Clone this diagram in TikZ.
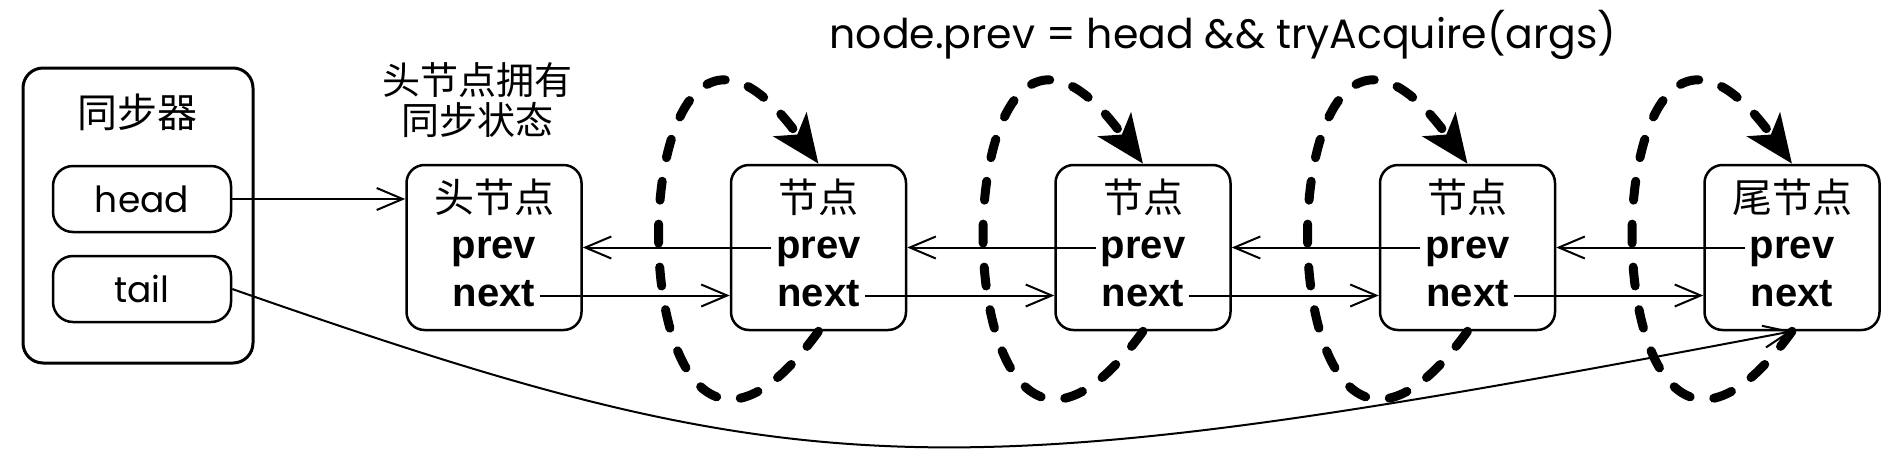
\documentclass[tikz,border=0pt]{standalone}
\usepackage{fontspec}
\setmainfont{Poppins}
\newfontfamily\cjkfont{Noto Sans CJK SC}
\newfontfamily\fieldfont{Liberation Sans}
\usetikzlibrary{arrows.meta,positioning}

\begin{document}
\begin{tikzpicture}[
  x=1pt,y=-1pt,
  node distance=147pt,
  qbox/.style={rectangle,rounded corners=18pt,draw,line width=2.5pt,minimum width=175pt,minimum height=165pt},
  ref/.style={rectangle,rounded corners=20pt,draw,line width=2.5pt,minimum width=178pt,minimum height=66pt,font=\fontsize{36}{40}\selectfont},
  cjk/.style={font=\cjkfont\fontsize{40}{42}\selectfont,inner sep=0pt},
  field/.style={font=\fieldfont\bfseries\fontsize{40}{42}\selectfont,text height=21pt,text depth=0pt,inner xsep=5pt,inner ysep=0pt},
  ptr/.style={-{Straight Barb[length=26pt,width=22pt]},line width=2pt},
  spin/.style={-{Stealth[length=48pt,width=40pt,inset=12pt]},line width=9pt,dash pattern=on 19pt off 24pt,line cap=round}
]
\useasboundingbox (0,0) rectangle (1898,472);

% synchronizer
\node[rectangle,rounded corners=20pt,draw,line width=3pt,minimum width=230pt,minimum height=295pt] (sync) at (138,215.5) {};
\node[cjk] (synct) at (137,112) {同步器};
\node[ref] (head) at (142,199) {head};
\node[ref] (tail) at (142,289) {tail};

% queue
\node[qbox] (n0) at (494,247.5) {};
\node[qbox,right=of n0] (n1) {};
\node[qbox,right=of n1] (n2) {};
\node[qbox,right=of n2] (n3) {};
\node[qbox,right=of n3] (n4) {};
\foreach \i/\name in {0/头节点,1/节点,2/节点,3/节点,4/尾节点} {
  \node[cjk] (t\i) at ([yshift=50pt]n\i.center) {\name};
  \node[field] (p\i) at (n\i.center) {prev};
  \node[field] (x\i) at ([yshift=-48pt]n\i.center) {next};
}
\node[cjk,align=center,font=\cjkfont\fontsize{38}{40}\selectfont] (state) at (477,100) {头节点拥有\\同步状态};
\node[font=\fontsize{41}{45}\selectfont] (cond) at (1223,35) {node.prev = head \&\& tryAcquire(args)};

\draw[ptr] (head.east) -- (head.east -| n0.west);
\foreach \i [evaluate=\i as \j using int(\i-1)] in {1,...,4} {
  \draw[ptr] (p\i.west) -- (p\i.west -| n\j.east);
  \draw[ptr] (x\j.east) -- (x\j.east -| n\i.west);
}
\draw[ptr] (tail.east) .. controls +(580,203) and +(-850,161.5) .. (n4.south);
\foreach \i in {1,...,4}
  \draw[spin] (n\i.south) .. controls +(-210,290) and +(-210,-290) .. (n\i.north);
\end{tikzpicture}
\end{document}
